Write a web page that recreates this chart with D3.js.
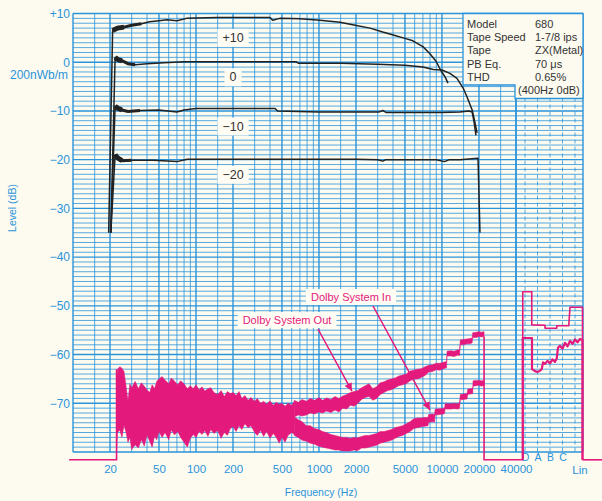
<!DOCTYPE html>
<html>
<head>
<meta charset="utf-8">
<script src="https://d3js.org/d3.v7.min.js"></script>
<style>
  html, body { margin: 0; padding: 0; background: #fdfbf0; }
  svg { display: block; font-family: "Liberation Sans", Arial, sans-serif; }
</style>
</head>
<body>
<div id="chart"></div>
<script>
// tick labels
const freqTicks = [20, 50, 100, 200, 500, 1000, 2000, 5000, 10000, 20000, 40000];
const levelTicks = [10, 0, -10, -20, -30, -40, -50, -60, -70];
const weightNames = ['D', 'A', 'B', 'C'];

// black curves: record level +10 / 0 / -10 / -20 dB
const p10Freq = [19.5, 21, 23, 26, 30, 36, 42, 50, 58, 70, 84, 100, 150, 250, 400, 420, 480, 700, 1020, 1480, 1970, 2600, 3300, 4150, 5000, 5800, 7000, 7950, 8950, 9800, 10600, 11200];
const p10Level = [-35, 6.5, 7.0, 7.2, 7.6, 7.9, 8.3, 8.5, 8.7, 8.5, 9.0, 9.1, 9.2, 9.2, 9.2, 8.6, 9.0, 8.9, 8.6, 8.2, 7.6, 7.0, 6.2, 5.5, 4.9, 4.4, 3.2, 1.8, 0.2, -1.7, -3.0, -4.3];

const zeroFreq = [20.3, 22, 23, 25, 28, 32, 40, 55, 80, 120, 200, 420, 650, 680, 1500, 3000, 5000, 7000, 8500, 10000, 11600, 13250, 14860, 15970, 17600, 18600, 19300];
const zeroLevel = [-35, 1.0, 0.6, 0.3, -0.3, -0.5, -0.3, -0.1, 0.1, 0.1, 0.1, 0.1, 0.1, -0.2, -0.2, -0.4, -0.6, -1.0, -1.5, -1.6, -2.3, -3.3, -5.3, -7.1, -9.8, -12.5, -14.5];

const m10Freq = [20.3, 22, 23, 25, 28, 35, 50, 70, 80, 100, 200, 440, 460, 1000, 3100, 3300, 3500, 6000, 10000, 14000, 16500, 17600, 18300, 18900];
const m10Level = [-35, -9.0, -9.4, -9.8, -10.1, -9.9, -9.8, -10.2, -9.8, -9.5, -9.5, -9.5, -10.0, -10.2, -10.2, -9.9, -10.3, -10.3, -10.3, -10.2, -10.0, -10.2, -12.5, -15.0];

const m20Freq = [20.3, 22, 23, 25, 30, 45, 70, 85, 100, 500, 2000, 3000, 3300, 3500, 6000, 9000, 10500, 11500, 14000, 19650, 20370];
const m20Level = [-35, -19.0, -19.6, -20.2, -20.1, -20.1, -20.4, -19.9, -19.9, -19.9, -19.9, -20.0, -20.3, -20.0, -20.0, -20.0, -20.4, -20.0, -20.0, -19.7, -35];

const curveNames = ['+10', '0', '\u221210', '\u221220'];
const curveLabelDb = [5.0, -3.1, -13.2, -23.1];
const curveLabelFreq = 200;

// noise floor (pink): shared band below ~630 Hz, then Dolby out / in traces
const floorLevel = -81.6;
const floorStartFreq = 9.3;

const lowFreq = [22.6, 23, 24, 25, 26, 27, 28, 29, 30, 32, 34, 36, 38, 40, 42, 44, 46, 48, 50, 53, 56, 60, 63, 67, 71, 75, 80, 85, 90, 95, 100, 106, 112, 118, 125, 132, 140, 150, 160, 170, 180, 190, 200, 212, 224, 236, 250, 265, 280, 300, 315, 335, 355, 375, 400, 425, 450, 475, 500, 530, 560, 600, 630];
const lowHi = [-66.0, -63.0, -62.5, -62.8, -63.5, -66.5, -69.5, -66.0, -66.8, -65.5, -67.0, -65.8, -66.5, -67.2, -67.8, -66.2, -67.0, -65.5, -65.0, -64.5, -65.2, -66.0, -64.8, -65.5, -66.2, -65.4, -66.0, -67.0, -66.4, -67.0, -66.2, -67.2, -66.6, -67.5, -67.0, -66.8, -67.8, -68.2, -67.4, -68.6, -67.6, -68.0, -67.8, -68.4, -67.6, -69.0, -68.4, -69.4, -68.8, -69.6, -69.0, -70.0, -69.6, -70.2, -69.5, -70.4, -69.8, -70.2, -70.0, -70.6, -70.0, -70.4, -69.6];
const lowLo = [-80.0, -76.0, -75.5, -77.0, -74.5, -76.0, -78.0, -77.0, -79.5, -78.5, -79.2, -77.5, -78.8, -76.5, -77.8, -79.0, -76.8, -77.5, -75.8, -77.0, -76.0, -77.5, -75.5, -76.5, -75.8, -77.0, -78.0, -79.0, -77.2, -76.4, -77.0, -75.8, -76.4, -75.6, -76.8, -75.4, -76.2, -75.6, -77.2, -76.0, -76.6, -75.2, -74.8, -75.8, -74.6, -75.4, -74.2, -75.0, -74.6, -76.0, -76.6, -75.6, -76.8, -75.8, -77.2, -76.2, -77.0, -78.2, -77.0, -78.0, -76.6, -76.0, -76.4];

const outFreq = [630, 680, 730, 790, 850, 920, 1000, 1070, 1150, 1250, 1350, 1450, 1560, 1680, 1800, 1930, 2070, 2220, 2380, 2550, 2740, 2940, 3150, 3380, 3620, 3880, 4160, 4460, 4780, 5130, 5500, 5900, 6330, 6790, 7280, 7800, 8370, 8970, 9620, 10300, 10900, 11000, 11800, 12600, 13500, 13900, 14100, 15000, 16000, 17000, 17600, 17800, 19000, 20000, 21000, 22000];
const outHi = [-69.4, -69.8, -69.2, -69.6, -69.0, -69.4, -68.8, -69.4, -68.9, -69.2, -68.6, -69.0, -68.5, -68.2, -67.8, -67.6, -67.4, -66.8, -66.4, -66.0, -67.0, -66.6, -65.8, -65.6, -65.2, -65.0, -64.8, -64.4, -64.2, -64.0, -63.4, -63.2, -63.0, -62.9, -62.5, -62.2, -62.1, -61.8, -61.8, -61.6, -61.4, -59.3, -59.2, -59.3, -59.0, -59.1, -57.0, -56.9, -56.8, -56.7, -56.6, -55.5, -55.4, -55.3, -55.4, -55.3];
const outLo = [-72.8, -72.4, -72.6, -72.4, -72.0, -72.2, -71.8, -72.0, -71.6, -71.9, -71.4, -71.8, -71.0, -71.2, -70.4, -70.6, -70.0, -69.2, -68.8, -68.6, -69.4, -69.0, -68.2, -67.8, -67.4, -67.2, -66.8, -66.4, -66.2, -66.0, -65.4, -65.0, -65.0, -64.7, -64.3, -63.6, -63.5, -63.1, -63.2, -62.9, -62.7, -60.3, -60.3, -60.4, -60.1, -60.2, -58.0, -58.0, -57.8, -57.8, -57.6, -56.5, -56.5, -56.3, -56.4, -56.3];

const inFreq = [630, 680, 730, 790, 850, 920, 1000, 1070, 1150, 1250, 1350, 1450, 1560, 1680, 1800, 1930, 2070, 2220, 2380, 2550, 2740, 2940, 3150, 3380, 3620, 3880, 4160, 4460, 4780, 5130, 5500, 5900, 6330, 6790, 7280, 7700, 7800, 8370, 8700, 8800, 9620, 10300, 10500, 10600, 11800, 12600, 13500, 13900, 14100, 15000, 16000, 16200, 17000, 17800, 17900, 19000, 20000, 21000, 22000];
const inHi = [-72.8, -73.4, -73.8, -74.6, -74.6, -75.2, -75.4, -75.8, -76.0, -76.4, -76.6, -76.8, -77.0, -77.0, -77.2, -77.0, -77.1, -76.8, -76.6, -76.6, -76.4, -76.2, -75.8, -75.8, -75.6, -75.4, -75.0, -74.8, -74.6, -74.2, -73.8, -73.2, -73.0, -73.0, -72.9, -72.9, -72.3, -72.2, -72.3, -71.2, -71.1, -71.0, -71.0, -70.1, -70.1, -70.0, -70.1, -69.9, -68.2, -68.1, -68.0, -67.1, -67.0, -66.9, -65.4, -65.3, -65.3, -65.4, -65.3];
const inLo = [-76.6, -77.0, -77.6, -77.8, -78.2, -78.4, -78.8, -79.0, -79.2, -79.4, -79.6, -79.6, -79.8, -79.8, -79.8, -79.6, -79.7, -79.2, -79.2, -79.0, -78.8, -78.6, -78.2, -78.0, -77.8, -77.6, -77.2, -76.8, -76.6, -76.2, -75.8, -75.2, -75.0, -74.8, -74.7, -74.6, -73.9, -73.8, -73.9, -72.4, -72.3, -72.2, -72.1, -71.2, -71.2, -71.1, -71.2, -71.0, -69.3, -69.2, -69.1, -68.2, -68.1, -68.0, -66.5, -66.4, -66.3, -66.5, -66.3];

// weighted readings (position on the D/A/B/C scale, level)
const wOutPos = [-0.18, 0.54, 0.54, 1.6, 1.6, 2.54, 2.54, 3.5, 3.6, 4.6];
const wOutLevel = [-47.1, -47.1, -53.9, -54.0, -54.6, -54.6, -54.1, -54.1, -50.3, -50.3];
const wInPos = [-0.18, 0.56, 0.56, 0.8, 1.0, 1.2, 1.34, 1.44, 1.6, 1.8, 2.0, 2.2, 2.4, 2.54, 2.64, 2.8, 3.0, 3.2, 3.4, 3.6, 3.8, 4.0, 4.2, 4.4, 4.6];
const wInLevel = [-56.6, -56.6, -63.0, -63.4, -63.6, -63.3, -63.0, -61.6, -61.9, -61.3, -61.8, -61.0, -61.5, -60.8, -58.6, -58.2, -58.8, -57.6, -58.3, -57.2, -57.8, -56.9, -57.5, -56.8, -57.0];

const specLabels = ['Model', 'Tape Speed', 'Tape', 'PB Eq.', 'THD'];
const specValues = ['680', '1-7/8 ips', 'ZX(Metal)', '70 \u03bcs', '0.65%'];

const W = 602, H = 501;
const blue = '#2a93da', pink = '#e3197c', ink = '#222';
const gridRight = 583;

const x = d3.scaleLog().domain([10, 40000]).range([73, 516]);
const y = d3.scaleLinear().domain([-80, 10]).range([452, 13.5]);
const xw = d3.scaleLinear().domain([0, 4]).range([525, 575]);

const svg = d3.select('#chart').append('svg').attr('width', W).attr('height', H);
svg.append('rect').attr('width', W).attr('height', H).attr('fill', '#fdfbf0');

// grid
const grid = svg.append('g');
const gridFreqs = [];
[10, 100, 1000, 10000].forEach(d => {
  [1, 1.5, 2, 3, 4, 5, 6, 7, 8, 9].forEach(m => { if (d * m <= 40000) gridFreqs.push(d * m); });
});
gridFreqs.push(40000);
grid.selectAll('.hl').data(d3.range(-80, 11)).enter().append('line')
  .attr('x1', x(10)).attr('x2', gridRight)
  .attr('y1', d => y(d)).attr('y2', d => y(d))
  .attr('stroke', blue)
  .attr('stroke-width', d => d % 10 === 0 ? 1.4 : 0.8);
grid.selectAll('.vl').data(gridFreqs).enter().append('line')
  .attr('x1', d => x(d)).attr('x2', d => x(d))
  .attr('y1', y(10)).attr('y2', y(-80))
  .attr('stroke', blue)
  .attr('stroke-width', d => (freqTicks.includes(d) || d === 10) ? 1.4 : 0.8);
grid.selectAll('.wl').data(d3.range(0, 5)).enter().append('line')
  .attr('x1', d => xw(d)).attr('x2', d => xw(d))
  .attr('y1', y(10)).attr('y2', y(-80))
  .attr('stroke', blue).attr('stroke-width', 0.8)
  .attr('stroke-dasharray', '4,3');
grid.append('line')
  .attr('x1', gridRight).attr('x2', gridRight).attr('y1', y(10)).attr('y2', y(-80))
  .attr('stroke', blue).attr('stroke-width', 1.4);

// axes
const yAxis = svg.append('g').attr('transform', `translate(${x(10)},0)`)
  .call(d3.axisLeft(y).tickValues(levelTicks).tickSize(0).tickPadding(3)
    .tickFormat(d => d > 0 ? '+' + d : d < 0 ? '\u2212' + (-d) : '0'));
yAxis.select('.domain').remove();
yAxis.selectAll('text').attr('fill', blue).style('font-size', '12px').style('font-family', '"Liberation Sans", Arial, sans-serif');

const xAxis = svg.append('g').attr('transform', `translate(0,${y(-80)})`)
  .call(d3.axisBottom(x).tickValues(freqTicks).tickSize(0).tickPadding(12.5).tickFormat(d => d));
xAxis.select('.domain').remove();
xAxis.selectAll('text').attr('fill', blue).style('font-size', '11.5px').style('font-family', '"Liberation Sans", Arial, sans-serif');

const wAxis = svg.append('g').attr('transform', `translate(0,${y(-80)})`)
  .call(d3.axisBottom(xw).tickValues([0, 1, 2, 3]).tickSize(0).tickPadding(1.5).tickFormat(i => weightNames[i]));
wAxis.select('.domain').remove();
wAxis.selectAll('text').attr('fill', blue).style('font-size', '10.5px').style('font-family', '"Liberation Sans", Arial, sans-serif');

svg.append('text').attr('x', 580).attr('y', 474).attr('text-anchor', 'middle')
  .attr('fill', blue).style('font-size', '11.5px').text('Lin');
svg.append('text').attr('x', 68).attr('y', 79).attr('text-anchor', 'end')
  .attr('fill', blue).style('font-size', '12px').text('200nWb/m');
svg.append('text').attr('transform', 'translate(16,208) rotate(-90)').attr('text-anchor', 'middle')
  .attr('fill', blue).style('font-size', '10.5px').text('Level (dB)');
svg.append('text').attr('x', 321).attr('y', 496).attr('text-anchor', 'middle')
  .attr('fill', blue).style('font-size', '10.5px').text('Frequency (Hz)');

// pink noise traces drawn as filled envelopes
const band = d3.area().x(d => x(d.f)).y0(d => y(d.lo)).y1(d => y(d.hi));
const toBand = (f, hi, lo) => f.map((v, i) => ({ f: v, hi: hi[i], lo: lo[i] }));
const noise = svg.append('g');
[toBand(lowFreq, lowHi, lowLo), toBand(outFreq, outHi, outLo), toBand(inFreq, inHi, inLo)].forEach(d => {
  noise.append('path').attr('d', band(d))
    .attr('fill', pink).attr('stroke', pink).attr('stroke-width', 0.5).attr('stroke-linejoin', 'bevel');
});

const pline = d3.line();
const lastOut = outFreq.length - 1;
const floorPaths = [
  [[x(floorStartFreq), y(floorLevel)], [x(lowFreq[0]), y(floorLevel)], [x(lowFreq[0]), y(lowHi[1])]],
  [[x(outFreq[lastOut]), y(outLo[lastOut])], [x(outFreq[lastOut]), y(floorLevel)], [xw(wOutPos[0]), y(floorLevel)]],
  [[xw(wOutPos[wOutPos.length - 1]), y(floorLevel)], [W, y(floorLevel)]]
];
floorPaths.forEach(p => {
  noise.append('path').attr('d', pline(p)).attr('fill', 'none')
    .attr('stroke', pink).attr('stroke-width', 1.6);
});
[[wOutPos, wOutLevel, 1.6], [wInPos, wInLevel, 2.2]].forEach(([pos, lvl, sw]) => {
  const pts = [[xw(pos[0]), y(floorLevel)]]
    .concat(pos.map((p, i) => [xw(p), y(lvl[i])]))
    .concat([[xw(pos[pos.length - 1]), y(floorLevel)]]);
  noise.append('path').attr('d', pline(pts)).attr('fill', 'none')
    .attr('stroke', pink).attr('stroke-width', sw).attr('stroke-linejoin', 'round');
});

// black level curves
const curves = [[p10Freq, p10Level], [zeroFreq, zeroLevel], [m10Freq, m10Level], [m20Freq, m20Level]];
const cline = d3.line().x(d => x(d[0])).y(d => y(d[1]));
curves.forEach(([f, v]) => {
  const pts = f.map((d, i) => [d, v[i]]);
  svg.append('path').attr('d', cline(pts)).attr('fill', 'none')
    .attr('stroke', ink).attr('stroke-width', 1.5).attr('stroke-linejoin', 'round');
  // thick trace right after the 20 Hz rise
  svg.append('path').attr('d', cline(pts.filter(d => d[0] >= 21 && d[0] <= 26))).attr('fill', 'none')
    .attr('stroke', ink).attr('stroke-width', 5);
  svg.append('path').attr('d', cline(pts.filter(d => d[0] >= 23 && d[0] <= 36))).attr('fill', 'none')
    .attr('stroke', ink).attr('stroke-width', 3);
});

// boxed labels
function boxedText(g, px, py, txt, color, size, padX, padY) {
  const t = g.append('text').attr('x', px).attr('y', py).attr('text-anchor', 'middle')
    .attr('dominant-baseline', 'central').attr('fill', color).style('font-size', size).text(txt);
  const b = t.node().getBBox();
  g.insert('rect', 'text').attr('x', b.x - padX).attr('y', b.y - padY)
    .attr('width', b.width + 2 * padX).attr('height', b.height + 2 * padY).attr('fill', '#fffdf4');
}
curveNames.forEach((n, i) => {
  boxedText(svg.append('g'), x(curveLabelFreq), y(curveLabelDb[i]), n, '#333', '12.5px', 5, 2);
});

// Dolby annotations
svg.append('defs').append('marker').attr('id', 'arr')
  .attr('viewBox', '0 0 10 10').attr('refX', 10).attr('refY', 5)
  .attr('markerWidth', 8).attr('markerHeight', 8).attr('markerUnits', 'userSpaceOnUse')
  .attr('orient', 'auto')
  .append('path').attr('d', 'M0,0 L10,5 L0,10 z').attr('fill', pink);
const notes = [
  { text: 'Dolby System In', cx: 351, cy: 297, from: [373, 306], f: 7980, db: -71.4 },
  { text: 'Dolby System Out', cx: 287, cy: 320, from: [318, 329], f: 1854, db: -67.5 }
];
notes.forEach(n => {
  svg.append('line').attr('x1', n.from[0]).attr('y1', n.from[1])
    .attr('x2', x(n.f)).attr('y2', y(n.db))
    .attr('stroke', pink).attr('stroke-width', 1.5).attr('marker-end', 'url(#arr)');
  boxedText(svg.append('g'), n.cx, n.cy, n.text, pink, '11px', 5, 2);
});

// spec box
const spec = svg.append('g');
spec.append('path')
  .attr('d', `M463,${y(10)} H${gridRight} V98.5 H515 V85 H463 Z`)
  .attr('fill', '#fdfbf0').attr('stroke', blue).attr('stroke-width', 1.3);
specLabels.forEach((l, i) => {
  spec.append('text').attr('x', 467).attr('y', 27.5 + i * 13.4).attr('fill', '#333')
    .style('font-size', '11px').text(l);
  spec.append('text').attr('x', 535).attr('y', 27.5 + i * 13.4).attr('fill', '#333')
    .style('font-size', '11px').text(specValues[i]);
});
spec.append('text').attr('x', 518).attr('y', 94).attr('fill', '#333')
  .style('font-size', '11px').text('(400Hz 0dB)');
</script>
</body>
</html>
